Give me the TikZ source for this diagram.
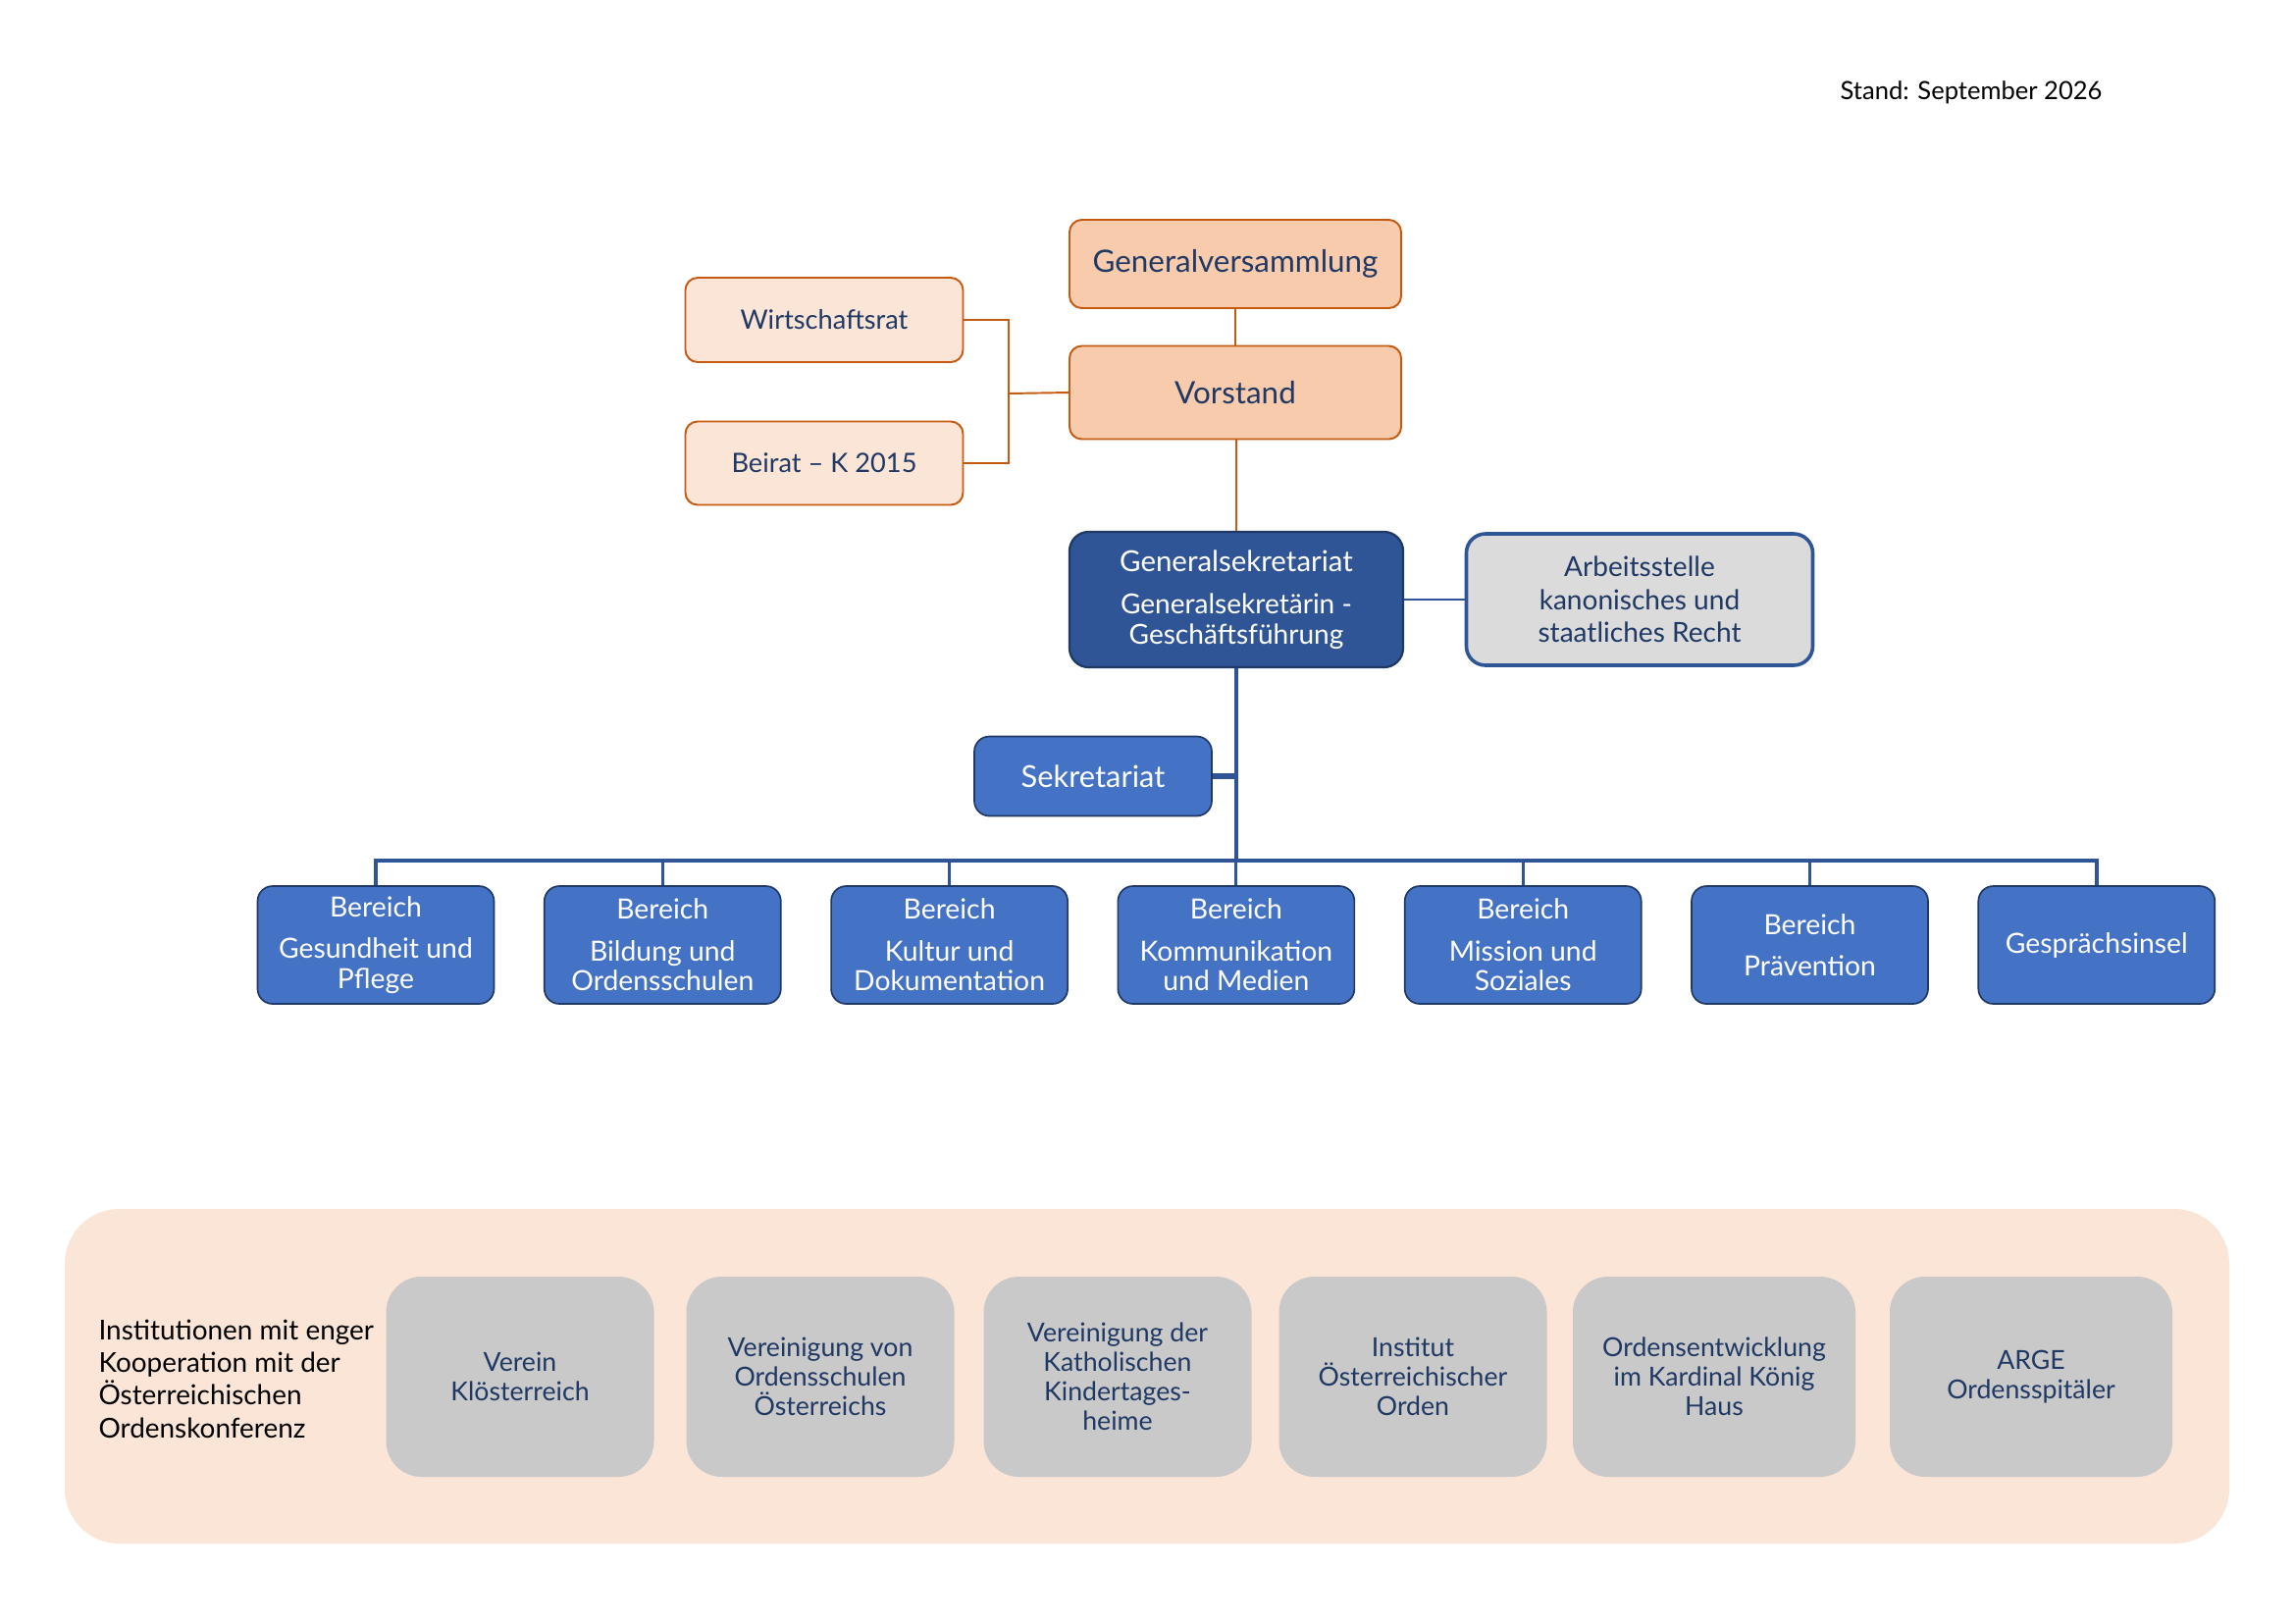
\documentclass[tikz,border=0pt]{standalone}
\usepackage{fontspec}
\setmainfont{Lato}
\definecolor{orfill}{HTML}{F8CBAD}
\definecolor{orlight}{HTML}{FBE5D6}
\definecolor{orline}{HTML}{C55A11}
\definecolor{navy}{HTML}{1F3864}
\definecolor{dblue}{HTML}{2F5597}
\definecolor{mblue}{HTML}{4472C4}
\definecolor{lgray}{HTML}{DBDBDB}
\definecolor{mgray}{HTML}{C9C9C9}
\begin{document}
\begin{tikzpicture}[x=0.36pt,y=-0.36pt,
  wh/.style 2 args={minimum width=#1*0.36pt,minimum height=#2*0.36pt,inner sep=0pt},
  orbox/.style={draw=orline,line width=0.7pt,rounded corners=4.5pt,text=navy,align=center},
  orstrong/.style={orbox,fill=orfill,font=\fontsize{11.3}{14}\selectfont},
  orweak/.style={orbox,fill=orlight,font=\fontsize{9.8}{12}\selectfont},
  gsbox/.style={fill=dblue,draw=navy,line width=0.8pt,rounded corners=7pt,text=white,align=center,font=\fontsize{10.1}{11}\selectfont},
  asbox/.style={fill=lgray,draw=dblue,line width=1.3pt,rounded corners=7pt,text=navy,align=center,font=\fontsize{10.1}{12.1}\selectfont},
  bbox/.style={fill=mblue,draw=navy,line width=0.6pt,rounded corners=5.5pt,text=white,align=center,font=\fontsize{10.2}{11}\selectfont},
  gbox/.style={fill=mgray,rounded corners=13pt,text=navy,align=center,font=\fontsize{9.6}{10.8}\selectfont},
  orln/.style={draw=orline,line width=0.7pt},
  bluln/.style={draw=dblue,line width=#1},
]
\useasboundingbox (0,0) rectangle (2339,1654);

% date
\node[anchor=east,inner sep=0pt,font=\fontsize{9.2}{11}\selectfont] (stand) at (2143,94) {Stand: September 2026};

% top boxes
\node[orstrong,wh={338}{90}] (gv) at (1259,269) {Generalversammlung};
\node[orstrong,wh={338}{95}] (vs) at (1259,400) {Vorstand};
\node[orweak,wh={283}{86}] (wr) at (840,326) {Wirtschaftsrat};
\node[orweak,wh={283}{85}] (br) at (840,472) {Beirat -- K 2015};
\coordinate (brk) at (1028,401);
\draw[orln] (gv.south) -- (vs.north);
\draw[orln] (wr.east) -| (brk) |- (br.east);
\draw[orln] (brk) -- (vs.west);

% Generalsekretariat
\node[gsbox,wh={340}{138}] (gs) at (1260,611) {{\fontsize{10.6}{11}\selectfont Generalsekretariat}\\[4.8pt]Generalsekretärin -\\Geschäftsführung};
\node[asbox,wh={353}{134}] (as) at (1671,611) {Arbeitsstelle\\kanonisches und\\staatliches Recht};
\draw[orln] (vs.south -| gs.north) -- (gs.north);
\draw[bluln=0.7pt] (gs.east) -- (as.west);

% Sekretariat
\node[bbox,font=\fontsize{11.1}{13}\selectfont,wh={242}{81}] (sek) at (1114,791) {Sekretariat};

% Bereiche
\foreach \i/\t in {1/{Bereich\\[4.2pt]Gesundheit und\\Pflege},
                   2/{Bereich\\[4.2pt]Bildung und\\Ordensschulen},
                   3/{Bereich\\[4.2pt]Kultur und\\Dokumentation},
                   4/{Bereich\\[4.2pt]Kommunikation\\und Medien},
                   5/{Bereich\\[4.2pt]Mission und\\Soziales},
                   6/{Bereich\\[4.2pt]Prävention},
                   7/{Gesprächsinsel}}
  \node[bbox,wh={241}{120}] (b\i) at ({383+292.3*(\i-1)},963) {\t};

\coordinate (busy) at (0,877);
\draw[bluln=1.6pt] (gs.south) -- (gs.south |- busy);
\draw[bluln=2.2pt] (sek.east) -- (sek.east -| gs.south);
\draw[bluln=1.6pt,line join=miter] (b1.north) -- (b1.north |- busy) -- (b7.north |- busy) -- (b7.north);
\foreach \i in {2,...,6}
  \draw[bluln=1.1pt] (b\i.north) -- (b\i.north |- busy);

% bottom panel
\node[fill=orlight,rounded corners=20pt,wh={2206}{341}] (panel) at (1169,1402.5) {};
\node[anchor=west,align=left,inner sep=0pt,font=\fontsize{10.05}{12}\selectfont] (inst) at (100,1405)
  {Institutionen mit enger\\Kooperation mit der\\Österreichischen\\Ordenskonferenz};
\node[gbox,wh={273}{204}] (g1) at (530,1403) {Verein\\Klösterreich};
\node[gbox,wh={273}{204}] (g2) at (836,1403) {Vereinigung von\\Ordensschulen\\Österreichs};
\node[gbox,wh={273}{204}] (g3) at (1139,1403) {Vereinigung der\\Katholischen\\Kindertages-\\heime};
\node[gbox,wh={273}{204}] (g4) at (1440,1403) {Institut\\Österreichischer\\Orden};
\node[gbox,wh={288}{204}] (g5) at (1747,1403) {Ordensentwicklung\\im Kardinal König\\Haus};
\node[gbox,wh={288}{204}] (g6) at (2070,1403) {ARGE\\Ordensspitäler};
\end{tikzpicture}
\end{document}
